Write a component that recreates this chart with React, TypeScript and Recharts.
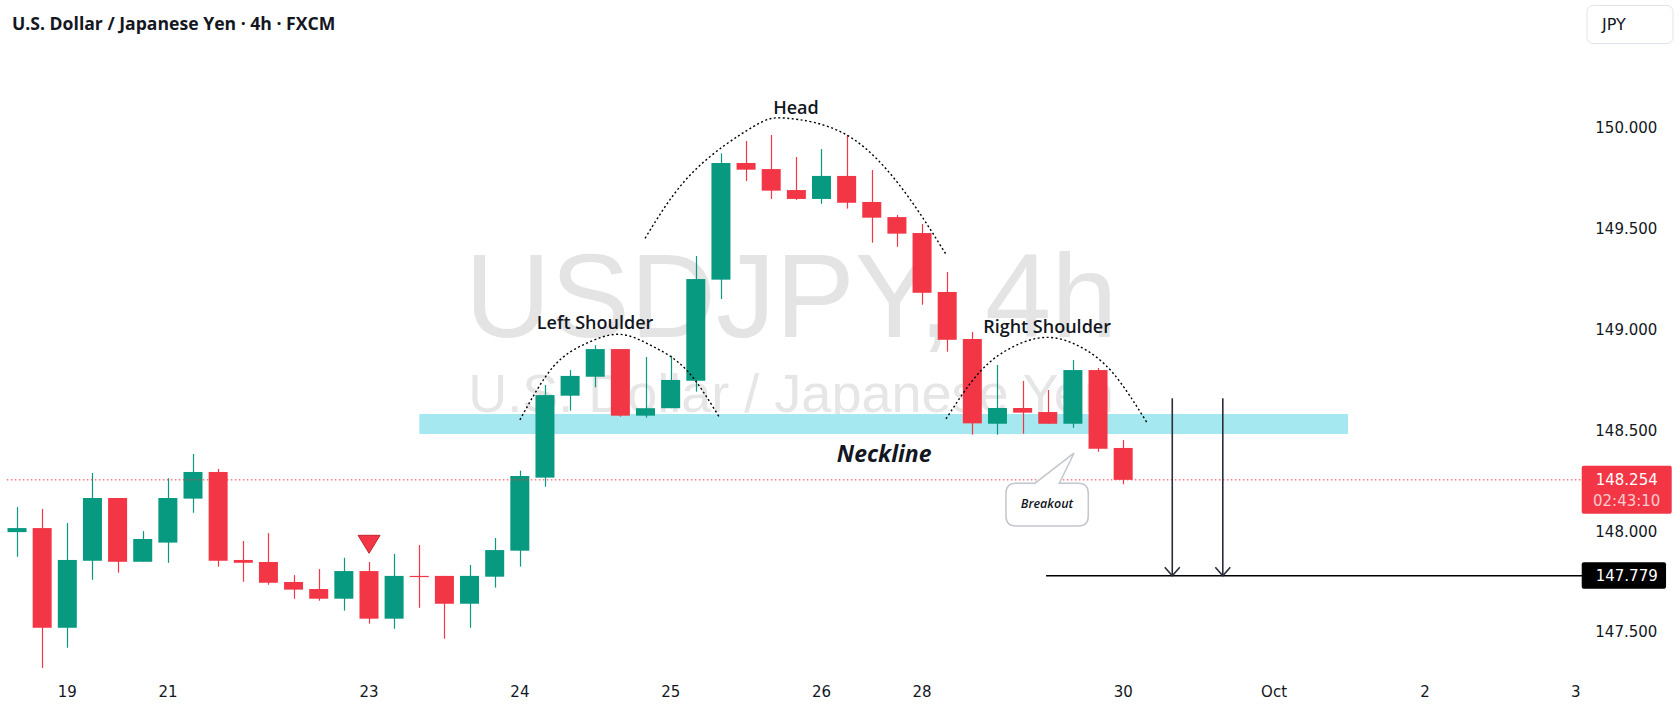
import React from 'react';
import {
  ComposedChart, Bar, Line, XAxis, YAxis,
  ReferenceArea, ReferenceLine, ReferenceDot,
} from 'recharts';

document.body.style.margin = '0';

const GREEN = '#089981';
const RED = '#f23645';
const INK = '#131722';
const AXIS_FONT = '"DejaVu Sans", sans-serif';
const NOTE_FONT = '"Open Sans", sans-serif';

// 4h candles, USDJPY (FXCM), Sep 19 -> Sep 30
const opens = [
  147.995, 148.015, 147.521, 147.853, 148.164, 147.848, 147.943, 148.161, 148.293, 147.857,
  147.847, 147.748, 147.713, 147.665, 147.802, 147.566, 147.778, 147.778, 147.640, 147.774,
  147.903, 148.265, 148.671, 148.765, 148.902, 148.572, 148.609, 148.745, 149.246, 149.824,
  149.794, 149.690, 149.646, 149.760, 149.631, 149.556, 149.477, 149.185, 148.952, 148.532,
  148.610, 148.590, 148.532, 148.798, 148.412,
];
const highs = [
  148.119, 148.110, 148.040, 148.288, 148.164, 148.000, 148.262, 148.382, 148.308, 147.951,
  147.990, 147.782, 147.812, 147.868, 147.847, 147.887, 147.931, 147.778, 147.832, 147.966,
  148.300, 148.724, 148.798, 148.921, 148.902, 148.863, 148.869, 149.363, 149.872, 149.933,
  149.963, 149.854, 149.893, 149.963, 149.789, 149.566, 149.522, 149.284, 148.987, 148.823,
  148.744, 148.699, 148.848, 148.808, 148.451,
];
const lows = [
  147.873, 147.322, 147.422, 147.759, 147.794, 147.848, 147.843, 148.091, 147.824, 147.749,
  147.734, 147.665, 147.655, 147.606, 147.541, 147.516, 147.620, 147.467, 147.521, 147.720,
  147.824, 148.220, 148.597, 148.713, 148.567, 148.562, 148.609, 148.691, 149.150, 149.735,
  149.646, 149.641, 149.622, 149.598, 149.429, 149.409, 149.122, 148.889, 148.478, 148.478,
  148.483, 148.532, 148.512, 148.393, 148.232,
];
const closes = [
  148.015, 147.521, 147.857, 148.164, 147.848, 147.961, 148.164, 148.293, 147.853, 147.843,
  147.744, 147.710, 147.665, 147.802, 147.566, 147.778, 147.774, 147.640, 147.778, 147.906,
  148.273, 148.674, 148.769, 148.902, 148.572, 148.609, 148.749, 149.249, 149.824, 149.791,
  149.687, 149.646, 149.760, 149.627, 149.553, 149.474, 149.181, 148.948, 148.534, 148.610,
  148.587, 148.532, 148.798, 148.408, 148.254,
];

// time scale: candle slots incl. empty future space
const slotCount = 63;
const dayTickIdx = [2, 6, 14, 20, 26, 32, 36, 44, 50, 56, 62];
const dayTickText = ['19', '21', '23', '24', '25', '26', '28', '30', 'Oct', '2', '3'];
const priceTicks = [147.5, 148, 148.5, 149, 149.5, 150];
const priceDomain = [147.3018, 150.6318];

const lastPrice = 148.254;
const countdown = '02:43:10';
const targetPrice = 147.779;

// drawings (x in candle slots, y in price)
const necklineX = [16, 52.94];
const necklineY = [148.481, 148.58];
const leftShoulderArc = [
  { x: 20.0, y: 148.551 }, { x: 21.33, y: 148.815 }, { x: 22.66, y: 148.931 },
  { x: 23.98, y: 148.975 }, { x: 25.31, y: 148.914 }, { x: 26.63, y: 148.798 },
  { x: 27.92, y: 148.567 },
];
const headArc = [
  { x: 24.98, y: 149.451 }, { x: 26.9, y: 149.781 }, { x: 29.28, y: 150.004 },
  { x: 30.61, y: 150.046 }, { x: 33.0, y: 149.963 }, { x: 35.25, y: 149.69 },
  { x: 36.94, y: 149.373 },
];
const rightShoulderArc = [
  { x: 36.95, y: 148.556 }, { x: 38.3, y: 148.79 }, { x: 39.63, y: 148.914 },
  { x: 40.96, y: 148.96 }, { x: 42.28, y: 148.914 }, { x: 43.6, y: 148.782 },
  { x: 44.96, y: 148.534 },
];
const patternNames = ['Left Shoulder', 'Head', 'Right Shoulder'];
const patternNameX = [22.99, 30.98, 40.97];
const patternNameY = [149.0, 150.067, 148.98];
const arrowX = [45.95, 47.96];
const arrowTop = 148.658;
const targetLineStart = 40.93;
const signalMark = { x: 14, y: 147.89 };
const breakoutTip = { x: 42.04, y: 148.386 };
const necklineText = { x: 34.49, y: 148.344 };

const candles = Array.from({ length: slotCount }, (_, i) => (
  i < opens.length
    ? { i, o: opens[i], h: highs[i], l: lows[i], c: closes[i], range: [lows[i], highs[i]] }
    : { i, range: null }
));

function Candle(props: any) {
  const { x, y, width, height, payload } = props;
  if (!payload || payload.o == null) return null;
  const top = Math.min(y, y + height);
  const span = Math.abs(height);
  const k = span / (payload.h - payload.l);
  const py = (v: number) => top + (payload.h - v) * k;
  const color = payload.c >= payload.o ? GREEN : RED;
  const cx = Math.round(x + width / 2) + 0.5;
  const b1 = py(Math.max(payload.o, payload.c));
  const b2 = py(Math.min(payload.o, payload.c));
  return (
    <g>
      <line x1={cx} x2={cx} y1={top} y2={top + span} stroke={color} strokeWidth={1.2} />
      <rect x={x} y={b1} width={width} height={Math.max(b2 - b1, 1.2)} fill={color} />
    </g>
  );
}

function DayTick(props: any) {
  const { x, y, payload } = props;
  const k = dayTickIdx.indexOf(payload.value);
  if (k < 0) return null;
  return (
    <text x={x} y={y + 17} textAnchor="middle" fontFamily={AXIS_FONT} fontSize={15} fill={INK}>
      {dayTickText[k]}
    </text>
  );
}

function PriceTick(props: any) {
  const { x, y, payload } = props;
  return (
    <text x={x - 1} y={y} dy="0.36em" textAnchor="start" fontFamily={AXIS_FONT} fontSize={15} fill={INK}>
      {payload.value.toFixed(3)}
    </text>
  );
}

const arrowShape = (p: any) => (
  <g>
    <line x1={p.x1} y1={p.y1} x2={p.x2} y2={p.y2} stroke="#2a2e39" strokeWidth={1.6} />
    <polyline
      points={`${p.x2 - 7.5},${p.y2 - 8.5} ${p.x2},${p.y2} ${p.x2 + 7.5},${p.y2 - 8.5}`}
      fill="none" stroke="#2a2e39" strokeWidth={1.6}
    />
  </g>
);

const lastPriceBox = (p: any) => (
  <g>
    <rect x={p.cx - 6.6} y={p.cy - 14} width={90} height={48} rx={2} fill={RED} />
    <text x={p.cx + 38.4} y={p.cy + 5} textAnchor="middle" fontFamily={AXIS_FONT} fontSize={15} fill="#fff">
      {lastPrice.toFixed(3)}
    </text>
    <text x={p.cx + 38.4} y={p.cy + 26} textAnchor="middle" fontFamily={AXIS_FONT} fontSize={15} fill="#fff" fillOpacity={0.75}>
      {countdown}
    </text>
  </g>
);

const targetBox = (p: any) => (
  <g>
    <rect x={p.cx - 6.6} y={p.cy - 13.5} width={84.3} height={26.6} rx={2} fill="#000" />
    <text x={p.cx + 38.4} y={p.cy + 5.3} textAnchor="middle" fontFamily={AXIS_FONT} fontSize={15} fill="#fff">
      {targetPrice.toFixed(3)}
    </text>
  </g>
);

const nameShape = (text: string) => (p: any) => (
  <text x={p.cx} y={p.cy} textAnchor="middle" fontFamily={NOTE_FONT} fontWeight={600} fontSize={18} fill={INK}>
    {text}
  </text>
);

const necklineShape = (p: any) => (
  <text x={p.cx} y={p.cy} textAnchor="middle" fontFamily={NOTE_FONT} fontWeight={700} fontStyle="italic" fontSize={23} fill={INK}>
    Neckline
  </text>
);

const signalShape = (p: any) => (
  <path
    d={`M${p.cx - 11},${p.cy - 18} L${p.cx + 11},${p.cy - 18} L${p.cx},${p.cy} Z`}
    fill={RED} stroke="#c1272d" strokeWidth={1}
  />
);

// rounded callout with a tail pointing up-right at the tip
const breakoutShape = (p: any) => {
  const { cx, cy } = p;
  const l = cx - 68, r = cx + 14.3, t = cy + 30, b = cy + 72.7, rad = 10;
  const d = [
    `M${l + rad},${t}`, `L${cx - 39},${t}`, `L${cx},${cy}`, `L${cx - 14.7},${t}`,
    `L${r - rad},${t}`, `Q${r},${t} ${r},${t + rad}`, `L${r},${b - rad}`, `Q${r},${b} ${r - rad},${b}`,
    `L${l + rad},${b}`, `Q${l},${b} ${l},${b - rad}`, `L${l},${t + rad}`, `Q${l},${t} ${l + rad},${t}`, 'Z',
  ].join(' ');
  return (
    <g>
      <path d={d} fill="#fff" stroke="#c3c6ce" strokeWidth={1.5} />
      <text x={cx - 27} y={cy + 55} textAnchor="middle" fontFamily={NOTE_FONT} fontWeight={600} fontStyle="italic" fontSize={12.5} fill={INK}>
        Breakout
      </text>
    </g>
  );
};

export default function App() {
  return (
    <div style={{ position: 'relative', width: 1680, height: 710, background: '#fff', overflow: 'hidden' }}>
      <svg width={1680} height={710} style={{ position: 'absolute', left: 0, top: 0 }}>
        <text x={791} y={337} textAnchor="middle" fontFamily='"Liberation Sans", Arial, sans-serif' fontSize={119} fill="#e4e4e4">
          USDJPY, 4h
        </text>
        <text x={791} y={412} textAnchor="middle" fontFamily='"Liberation Sans", Arial, sans-serif' fontSize={54} fill="#e6e6e6">
          U.S. Dollar / Japanese Yen
        </text>
      </svg>
      <div style={{ position: 'absolute', left: 0, top: 0 }}>
        <ComposedChart width={1680} height={710} data={candles} margin={{ top: 0, right: 0, bottom: 0, left: 4.53 }}>
          <XAxis dataKey="i" type="category" interval={0} tick={<DayTick />} tickLine={false} axisLine={false} height={38} />
          <XAxis xAxisId="n" type="number" dataKey="x" domain={[-0.5, slotCount - 0.5]} allowDataOverflow hide />
          <YAxis
            orientation="right" width={91.67} domain={priceDomain} allowDataOverflow
            ticks={priceTicks} tick={<PriceTick />} tickLine={false} axisLine={false}
          />
          <ReferenceArea
            xAxisId="n" x1={necklineX[0]} x2={necklineX[1]} y1={necklineY[0]} y2={necklineY[1]}
            fill="#a6e8f0" fillOpacity={1} stroke="none" ifOverflow="visible"
          />
          <ReferenceLine y={lastPrice} stroke={RED} strokeWidth={1} strokeDasharray="1.5 2.5" />
          <ReferenceLine
            xAxisId="n" segment={[{ x: targetLineStart, y: targetPrice }, { x: slotCount - 0.5, y: targetPrice }]}
            stroke="#000" strokeWidth={1.5} ifOverflow="visible"
          />
          <Bar dataKey="range" barSize={19} shape={<Candle />} isAnimationActive={false} />
          {[leftShoulderArc, headArc, rightShoulderArc].map((arc, k) => (
            <Line
              key={k} xAxisId="n" data={arc} dataKey="y" type="natural" stroke="#000"
              strokeWidth={1.4} strokeDasharray="2 2.5" dot={false} activeDot={false} isAnimationActive={false}
            />
          ))}
          {arrowX.map((ax) => (
            <ReferenceLine
              key={ax} xAxisId="n" segment={[{ x: ax, y: arrowTop }, { x: ax, y: targetPrice }]}
              shape={arrowShape} ifOverflow="visible"
            />
          ))}
          {patternNames.map((name, k) => (
            <ReferenceDot
              key={name} xAxisId="n" x={patternNameX[k]} y={patternNameY[k]} r={0}
              shape={nameShape(name)} ifOverflow="visible"
            />
          ))}
          <ReferenceDot xAxisId="n" x={necklineText.x} y={necklineText.y} r={0} shape={necklineShape} ifOverflow="visible" />
          <ReferenceDot xAxisId="n" x={signalMark.x} y={signalMark.y} r={0} shape={signalShape} ifOverflow="visible" />
          <ReferenceDot xAxisId="n" x={breakoutTip.x} y={breakoutTip.y} r={0} shape={breakoutShape} ifOverflow="visible" />
          <ReferenceDot xAxisId="n" x={slotCount - 0.5} y={lastPrice} r={0} shape={lastPriceBox} ifOverflow="visible" />
          <ReferenceDot xAxisId="n" x={slotCount - 0.5} y={targetPrice} r={0} shape={targetBox} ifOverflow="visible" />
        </ComposedChart>
      </div>
      <svg width={1680} height={710} style={{ position: 'absolute', left: 0, top: 0, pointerEvents: 'none' }}>
        <text x={12} y={30} fontFamily={NOTE_FONT} fontWeight={700} fontSize={17.6} fill={INK}>
          U.S. Dollar / Japanese Yen · 4h · FXCM
        </text>
        <rect x={1587} y={5.5} width={86} height={38} rx={6} fill="#fff" stroke="#e0e3eb" />
        <text x={1602} y={30} fontFamily={AXIS_FONT} fontSize={16} fill={INK}>JPY</text>
      </svg>
    </div>
  );
}
